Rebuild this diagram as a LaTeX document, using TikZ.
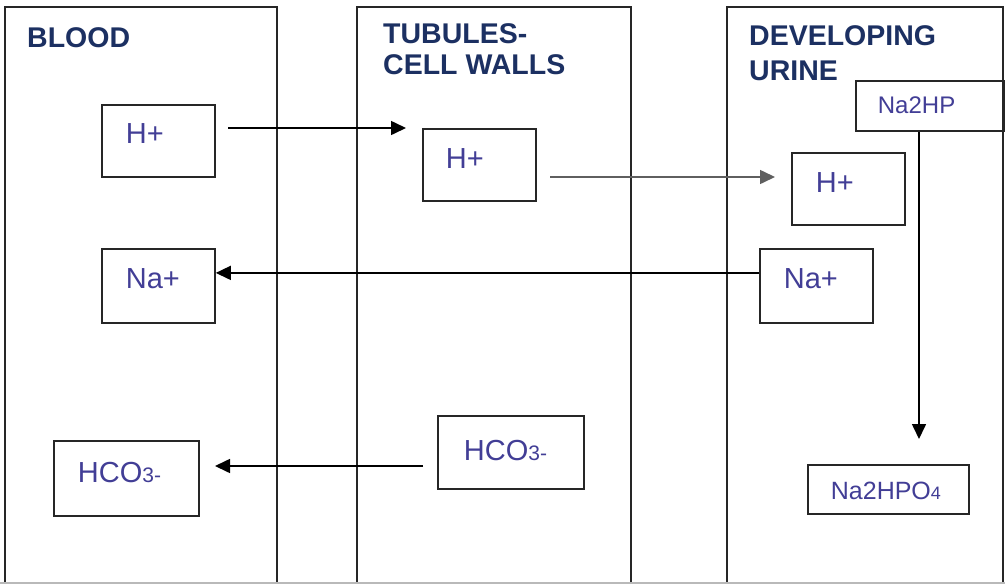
\documentclass[tikz,border=0pt]{standalone}
\usepackage{fontspec}
\setmainfont{Liberation Sans}
\usetikzlibrary{arrows.meta}
\definecolor{hdr}{RGB}{28,48,98}
\definecolor{txt}{RGB}{66,62,150}
\definecolor{lnc}{RGB}{38,38,38}
\definecolor{ar2}{RGB}{95,95,95}
\definecolor{edge}{RGB}{185,185,185}
\begin{document}
\begin{tikzpicture}[x=1pt,y=-1pt,
  panel/.style={draw=lnc, line width=2.2pt},
  hdrtext/.style={anchor=north west, inner sep=0pt, align=left, text=hdr},
  box/.style={draw=lnc, line width=1.8pt, inner sep=0pt, align=left, text=txt, anchor=north west, font=\fontsize{29}{29}\selectfont},
  smallbox/.style={box, font=\fontsize{24}{24}\selectfont},
  arr/.style={draw=black, line width=1.6pt, -{Triangle[length=15pt,width=14pt]}},
]
\useasboundingbox (0,0) rectangle (1005,584);
\fill[white] (0,0) rectangle (1005,584);

% panels
\draw[panel] (5,584) -- (5,7) -- (277,7) -- (277,584);
\draw[panel] (357,584) -- (357,7) -- (631,7) -- (631,584);
\draw[panel] (727,584) -- (727,7) -- (1003,7) -- (1003,584);
\draw[edge, line width=1.5pt] (0,583) -- (1005,583);

% headers
\node[hdrtext, font=\fontsize{28.5}{28.5}\bfseries] (hb) at (27,27) {BLOOD};
\node[hdrtext, font=\fontsize{28.5}{31}\bfseries] (ht) at (383,23) {TUBULES-\\CELL WALLS};
\node[hdrtext, font=\fontsize{28.5}{35}\bfseries] (hu) at (749,25) {DEVELOPING\\URINE};

% blood boxes
\node[box, text width=113pt, text height=39pt, text depth=33pt] (bH) at (101,104) {\hspace*{24pt}H+};
\node[box, text width=113pt, text height=40pt, text depth=34pt] (bNa) at (101,248) {\hspace*{24pt}Na+};
\node[box, text width=145pt, text height=42pt, text depth=33pt] (bHCO) at (53,440) {\hspace*{24pt}HCO{\fontsize{21}{21}\selectfont 3-}};

% tubule boxes
\node[box, text width=113pt, text height=40pt, text depth=32pt] (tH) at (422,128) {\hspace*{23pt}H+};
\node[box, text width=146pt, text height=45pt, text depth=28pt] (tHCO) at (437,415) {\hspace*{26pt}HCO{\fontsize{21}{21}\selectfont 3-}};

% urine boxes
\node[box, text width=113pt, text height=40pt, text depth=32pt] (uH) at (791,152) {\hspace*{24pt}H+};
\node[box, text width=113pt, text height=40pt, text depth=34pt] (uNa) at (759,248) {\hspace*{24pt}Na+};
\node[smallbox, text width=148pt, text height=33pt, text depth=17pt] (uP) at (855,80) {\hspace*{22pt}Na2HP};
\node[smallbox, font=\fontsize{25}{25}\selectfont, text width=161pt, text height=35pt, text depth=14pt] (uPO) at (807,464) {\hspace*{23pt}Na2HPO{\fontsize{18}{18}\selectfont 4}};

% connector end points
\coordinate (a1s) at (228,128);
\coordinate (a1e) at (406,128);
\coordinate (a2s) at (550,177);
\coordinate (a2e) at (775,177);
\coordinate (a4s) at (423,466);
\coordinate (a4e) at (215,466);
\coordinate (a5e) at (919,439);

% connectors
\draw[arr] (a1s) -- (a1e);
\draw[arr, draw=ar2] (a2s) -- (a2e);
\draw[arr] ([yshift=13pt]uNa.west) -- ([yshift=13pt]uNa.west -| bNa.east);
\draw[arr] (a4s) -- (a4e);
\draw[arr] (uP.south -| a5e) -- (a5e);
\end{tikzpicture}
\end{document}
